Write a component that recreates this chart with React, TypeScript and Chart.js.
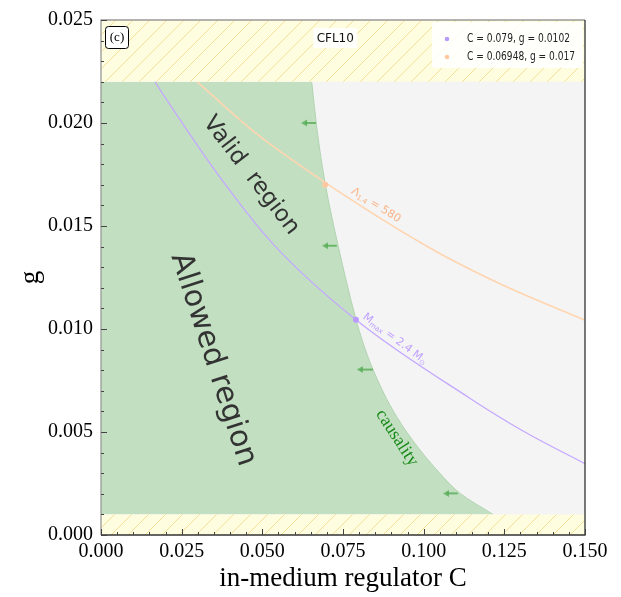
import React, { useEffect, useRef } from "react";
import { Chart, registerables } from "chart.js";
Chart.register(...registerables);

// ---------- data ----------
const xTickValues = [0, 0.025, 0.05, 0.075, 0.1, 0.125, 0.15];
const yTickValues = [0, 0.005, 0.01, 0.015, 0.02, 0.025];

// causality boundary (allowed region lies to the left), g ascending
const causalityG = [0.001, 0.00202, 0.00298, 0.00457, 0.00615, 0.00803, 0.00938, 0.01048, 0.01404, 0.01712, 0.01962, 0.022];
const causalityC = [0.1215, 0.1113, 0.1051, 0.0967, 0.0901, 0.0843, 0.0811, 0.079, 0.0735, 0.0694, 0.067, 0.0653];

// M_max = 2.4 Msun curve
const mmaxC = [0.0167, 0.0192, 0.036, 0.053, 0.079, 0.1144, 0.1308, 0.15];
const mmaxG = [0.022, 0.0214, 0.01755, 0.01418, 0.01045, 0.00663, 0.00505, 0.00346];

// Lambda_1.4 = 580 curve
const lambdaC = [0.0298, 0.0483, 0.0694, 0.1029, 0.125, 0.15];
const lambdaG = [0.022, 0.01947, 0.01712, 0.01385, 0.0121, 0.01043];

// marked crossing points
const markC = [0.079, 0.06948];
const markG = [0.01045, 0.017];
const legendLabels = ["C = 0.079, g = 0.0102", "C = 0.06948, g = 0.017"];

// excluded bands (CFL10)
const bandLowG = 0.001;
const bandHighG = 0.022;

// arrows pointing to allowed side
const arrowG = [0.02, 0.01404, 0.00803, 0.00202];
const arrowTailC = [0.0666, 0.0731, 0.0843, 0.1106];
const arrowHeadC = [0.062, 0.0685, 0.0793, 0.106];

const PURPLE = "#c4a8ff";
const PURPLE_DOT = "#b99bff";
const ORANGE = "#ffd5b0";
const ORANGE_DOT = "#ffc8a0";
const GREEN_FILL = "#c2e0c1";

function makeHatch(): CanvasPattern | string {
  const s = 17;
  const c = document.createElement("canvas");
  c.width = s;
  c.height = s;
  const g = c.getContext("2d");
  if (!g) return "#fffde0";
  g.fillStyle = "#fffde0";
  g.fillRect(0, 0, s, s);
  g.strokeStyle = "#f3df98";
  g.lineWidth = 1;
  g.beginPath();
  g.moveTo(0, s);
  g.lineTo(s, 0);
  g.moveTo(-2, 2);
  g.lineTo(2, -2);
  g.moveTo(s - 2, s + 2);
  g.lineTo(s + 2, s - 2);
  g.stroke();
  const p = g.createPattern(c, "repeat");
  return p || "#fffde0";
}

type Part = { t: string; size: number; dy: number };

function drawRich(ctx: CanvasRenderingContext2D, parts: Part[], x: number, y: number, angleDeg: number, color: string, family: string) {
  ctx.save();
  ctx.translate(x, y);
  ctx.rotate((angleDeg * Math.PI) / 180);
  ctx.fillStyle = color;
  ctx.textBaseline = "middle";
  ctx.textAlign = "left";
  let total = 0;
  const widths = parts.map((p) => {
    ctx.font = `${p.size}px ${family}`;
    const w = ctx.measureText(p.t).width;
    total += w;
    return w;
  });
  let cx = -total / 2;
  parts.forEach((p, i) => {
    ctx.font = `${p.size}px ${family}`;
    ctx.fillText(p.t, cx, p.dy);
    cx += widths[i];
  });
  ctx.restore();
}

function drawRotText(ctx: CanvasRenderingContext2D, text: string, x: number, y: number, angleDeg: number, font: string, color: string) {
  ctx.save();
  ctx.translate(x, y);
  ctx.rotate((angleDeg * Math.PI) / 180);
  ctx.font = font;
  ctx.fillStyle = color;
  ctx.textAlign = "center";
  ctx.textBaseline = "middle";
  ctx.fillText(text, 0, 0);
  ctx.restore();
}

function roundRect(ctx: CanvasRenderingContext2D, x: number, y: number, w: number, h: number, r: number) {
  ctx.beginPath();
  ctx.moveTo(x + r, y);
  ctx.lineTo(x + w - r, y);
  ctx.quadraticCurveTo(x + w, y, x + w, y + r);
  ctx.lineTo(x + w, y + h - r);
  ctx.quadraticCurveTo(x + w, y + h, x + w - r, y + h);
  ctx.lineTo(x + r, y + h);
  ctx.quadraticCurveTo(x, y + h, x, y + h - r);
  ctx.lineTo(x, y + r);
  ctx.quadraticCurveTo(x, y, x + r, y);
  ctx.closePath();
}

const overlayPlugin = {
  id: "overlay",
  beforeDatasetsDraw(chart: any) {
    const { ctx, chartArea: a } = chart;
    ctx.save();
    ctx.fillStyle = "#f4f4f4";
    ctx.fillRect(a.left, a.top, a.right - a.left, a.bottom - a.top);
    ctx.restore();
  },
  afterDatasetsDraw(chart: any) {
    const { ctx, chartArea: a } = chart;
    const xs = chart.scales.x;
    const ys = chart.scales.y;
    const px = (v: number) => xs.getPixelForValue(v);
    const py = (v: number) => ys.getPixelForValue(v);

    // arrows
    ctx.save();
    ctx.strokeStyle = "rgba(80,170,80,0.75)";
    ctx.fillStyle = "rgba(80,170,80,0.75)";
    ctx.lineWidth = 2;
    arrowG.forEach((g, i) => {
      const y = py(g);
      const x1 = px(arrowTailC[i]);
      const x2 = px(arrowHeadC[i]);
      ctx.beginPath();
      ctx.moveTo(x1, y);
      ctx.lineTo(x2 + 4, y);
      ctx.stroke();
      ctx.beginPath();
      ctx.moveTo(x2, y);
      ctx.lineTo(x2 + 6, y - 3.5);
      ctx.lineTo(x2 + 6, y + 3.5);
      ctx.closePath();
      ctx.fill();
    });
    ctx.restore();

    // region labels
    drawRotText(ctx, "Valid  region", px(0.0465), py(0.01745), 52.5, "23px 'DejaVu Sans'", "#333333");
    drawRotText(ctx, "Allowed region", px(0.0347), py(0.00852), 72, "30px 'DejaVu Sans'", "#333333");
    drawRotText(ctx, "causality", px(0.0917), py(0.00471), 57, "18px 'Liberation Serif'", "#1a8a1a");

    // curve labels
    drawRich(
      ctx,
      [
        { t: "\u039B", size: 11, dy: 0 },
        { t: "1.4", size: 7, dy: 3 },
        { t: " = 580", size: 11, dy: 0 },
      ],
      px(0.0852),
      py(0.01601),
      32,
      "#f8b488",
      "'DejaVu Sans'"
    );
    drawRich(
      ctx,
      [
        { t: "M", size: 11, dy: 0 },
        { t: "max", size: 7, dy: 3 },
        { t: " = 2.4 M", size: 11, dy: 0 },
        { t: "\u2299", size: 7, dy: 3 },
      ],
      px(0.0911),
      py(0.00952),
      37,
      "#c0a0ff",
      "'DejaVu Sans'"
    );

    // (c) box
    ctx.save();
    roundRect(ctx, a.left + 4.5, a.top + 6.5, 23, 22, 3);
    ctx.fillStyle = "#ffffff";
    ctx.fill();
    ctx.strokeStyle = "#000000";
    ctx.lineWidth = 1;
    ctx.stroke();
    ctx.fillStyle = "#000";
    ctx.font = "13px 'Liberation Serif'";
    ctx.textAlign = "center";
    ctx.textBaseline = "middle";
    ctx.fillText("(c)", a.left + 16, a.top + 17.5);
    ctx.restore();

    // CFL10 box
    ctx.save();
    const cfx = px(0.0726);
    ctx.fillStyle = "rgba(255,255,255,0.9)";
    roundRect(ctx, cfx - 22, a.top + 8, 44, 20, 2);
    ctx.fill();
    ctx.fillStyle = "#111";
    ctx.font = "12px 'DejaVu Sans'";
    ctx.textAlign = "center";
    ctx.textBaseline = "middle";
    ctx.fillText("CFL10", cfx, a.top + 18.5);
    ctx.restore();

    // legend
    ctx.save();
    const lx = a.right - 153;
    const ly = a.top + 2;
    ctx.fillStyle = "rgba(255,255,255,0.85)";
    roundRect(ctx, lx, ly, 151, 46, 3);
    ctx.fill();
    const dotColors = [PURPLE_DOT, ORANGE_DOT];
    legendLabels.forEach((lab, i) => {
      const yy = ly + 17 + i * 18;
      ctx.beginPath();
      ctx.fillStyle = dotColors[i];
      ctx.arc(lx + 15, yy, 2.3, 0, Math.PI * 2);
      ctx.fill();
      ctx.fillStyle = "#222";
      ctx.font = "12px 'DejaVu Sans'";
      ctx.textAlign = "left";
      ctx.textBaseline = "middle";
      ctx.fillText(lab, lx + 35, yy, i === 0 ? 103 : 108);
    });
    ctx.restore();

    // frame
    ctx.save();
    ctx.lineWidth = 1.3;
    ctx.strokeStyle = "#999999";
    ctx.beginPath();
    ctx.moveTo(a.left, a.bottom);
    ctx.lineTo(a.left, a.top);
    ctx.lineTo(a.right, a.top);
    ctx.stroke();
    ctx.strokeStyle = "#333333";
    ctx.beginPath();
    ctx.moveTo(a.right, a.top);
    ctx.lineTo(a.right, a.bottom);
    ctx.lineTo(a.left, a.bottom);
    ctx.stroke();

    // inward ticks
    ctx.strokeStyle = "#444";
    ctx.lineWidth = 1;
    for (let i = 0; i <= 30; i++) {
      const v = i * 0.005;
      const major = i % 5 === 0;
      const x = Math.round(px(v)) + 0.5;
      ctx.beginPath();
      ctx.moveTo(x, a.bottom);
      ctx.lineTo(x, a.bottom - (major ? 6 : 3));
      ctx.stroke();
    }
    for (let i = 0; i <= 25; i++) {
      const v = i * 0.001;
      const major = i % 5 === 0;
      const y = Math.round(py(v)) + 0.5;
      ctx.beginPath();
      ctx.moveTo(a.left, y);
      ctx.lineTo(a.left + (major ? 6 : 3), y);
      ctx.stroke();
    }
    ctx.restore();
  },
};

export default function App() {
  const ref = useRef<HTMLCanvasElement | null>(null);
  useEffect(() => {
    if (!ref.current) return;
    const hatch = makeHatch();
    const pts = (xs: number[], ys: number[]) => xs.map((x, i) => ({ x, y: ys[i] }));
    const chart = new Chart(ref.current, {
      type: "line",
      data: {
        datasets: [
          {
            label: "allowed",
            data: pts(causalityC, causalityG),
            indexAxis: "y",
            fill: { value: 0 },
            backgroundColor: GREEN_FILL,
            borderColor: "rgba(178,212,178,1)",
            borderWidth: 1,
            pointRadius: 0,
            cubicInterpolationMode: "monotone",
            order: 10,
          } as any,
          {
            label: "bandHigh",
            data: [
              { x: 0, y: bandHighG },
              { x: 0.15, y: bandHighG },
            ],
            fill: "end",
            backgroundColor: hatch as any,
            borderWidth: 0,
            pointRadius: 0,
            order: 9,
          },
          {
            label: "bandLow",
            data: [
              { x: 0, y: bandLowG },
              { x: 0.15, y: bandLowG },
            ],
            fill: "start",
            backgroundColor: hatch as any,
            borderWidth: 0,
            pointRadius: 0,
            order: 9,
          },
          {
            label: "Mmax",
            data: pts(mmaxC, mmaxG),
            borderColor: PURPLE,
            borderWidth: 1.3,
            pointRadius: 0,
            fill: false,
            cubicInterpolationMode: "monotone",
            order: 5,
          },
          {
            label: "Lambda",
            data: pts(lambdaC, lambdaG),
            borderColor: ORANGE,
            borderWidth: 1.6,
            pointRadius: 0,
            fill: false,
            cubicInterpolationMode: "monotone",
            order: 5,
          },
          {
            label: "marks",
            data: pts(markC, markG),
            showLine: false,
            pointRadius: 3,
            pointBorderWidth: 0,
            pointBackgroundColor: [PURPLE_DOT, ORANGE_DOT],
            order: 1,
          },
        ],
      },
      options: {
        animation: false,
        responsive: false,
        maintainAspectRatio: false,
        events: [],
        layout: { padding: { top: 14, right: 36, left: 0, bottom: 0 } },
        plugins: { legend: { display: false }, tooltip: { enabled: false } },
        elements: { line: { tension: 0 } },
        scales: {
          x: {
            type: "linear",
            min: 0,
            max: 0.15,
            afterBuildTicks: (s: any) => {
              s.ticks = xTickValues.map((v) => ({ value: v }));
            },
            afterFit: (s: any) => {
              s.height = 62;
            },
            ticks: {
              callback: (v: any) => Number(v).toFixed(3),
              font: { family: "'Liberation Serif'", size: 20 },
              color: "#000",
              padding: 5,
              maxRotation: 0,
              autoSkip: false,
            },
            grid: { display: false, drawTicks: false },
            border: { display: false },
            title: {
              display: true,
              text: "in-medium regulator C",
              font: { family: "'Liberation Serif'", size: 27 },
              color: "#000",
              padding: { top: 0, bottom: 2 },
            },
          },
          y: {
            type: "linear",
            min: 0,
            max: 0.025,
            afterBuildTicks: (s: any) => {
              s.ticks = yTickValues.map((v) => ({ value: v }));
            },
            afterFit: (s: any) => {
              s.width = 101;
            },
            ticks: {
              callback: (v: any) => Number(v).toFixed(3),
              font: { family: "'Liberation Serif'", size: 20 },
              color: "#000",
              padding: 8,
              autoSkip: false,
            },
            grid: { display: false, drawTicks: false },
            border: { display: false },
            title: {
              display: true,
              text: "g",
              font: { family: "'Liberation Serif'", size: 27 },
              color: "#000",
              padding: { top: 15, bottom: 0 },
            },
          },
        },
      },
      plugins: [overlayPlugin as any],
    });
    return () => chart.destroy();
  }, []);
  return (
    <div style={{ position: "absolute", left: 0, top: 0, width: 621, height: 597, background: "#fff" }}>
      <canvas ref={ref} width={621} height={597} style={{ display: "block", width: 621, height: 597 }} />
    </div>
  );
}
